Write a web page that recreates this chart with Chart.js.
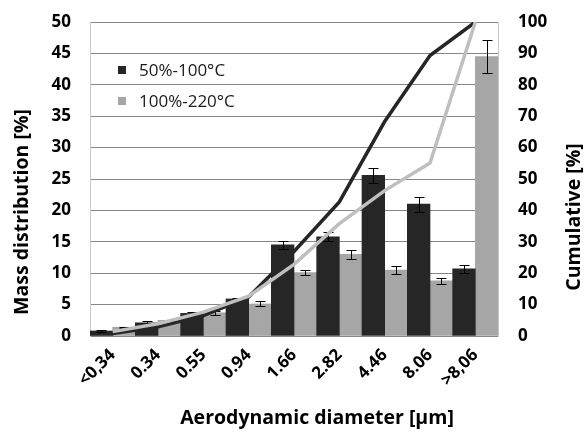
<!DOCTYPE html>
<html>
<head>
<meta charset="utf-8">
<script src="https://cdn.jsdelivr.net/npm/chart.js@4/dist/chart.umd.min.js"></script>
<style>
html,body{margin:0;padding:0;background:#fff;}
#wrap{width:587px;height:434px;position:relative;}
</style>
</head>
<body>
<div id="wrap"><canvas id="c" width="587" height="434"></canvas></div>
<script>
const categories = ['<0,34','0.34','0.55','0.94','1.66','2.82','4.46','8.06','>8,06'];
const seriesNames = ['50%-100°C','100%-220°C'];
const massA = [0.8, 2.1, 3.6, 5.9, 14.5, 15.8, 25.6, 21.0, 10.7];
const massB = [1.4, 2.5, 3.7, 5.1, 10.1, 13.0, 10.5, 8.8, 44.5];
const errA = [0.1, 0.3, 0.3, 0.2, 0.7, 0.7, 1.2, 1.2, 0.6];
const errB = [0.1, 0.1, 0.3, 0.4, 0.4, 0.7, 0.6, 0.5, 2.6];
const cumA = [0.8, 2.9, 6.5, 12.4, 26.9, 42.7, 68.3, 89.3, 100];
const cumB = [1.4, 3.9, 7.6, 12.7, 22.8, 35.8, 46.3, 55.1, 100];
const leftTicks = [0,5,10,15,20,25,30,35,40,45,50];
const rightTicks = [0,10,20,30,40,50,60,70,80,90,100];
const xTitle = 'Aerodynamic diameter [µm]';
const yTitle = 'Mass distribution [%]';
const y1Title = 'Cumulative [%]';

const FONT = "'Open Sans', 'DejaVu Sans', sans-serif";
const DARK = '#262626', LIGHT = '#a6a6a6', LIGHTLINE = '#bfbfbf';

const errorBars = {
  id: 'errorBars',
  afterDatasetDraw(chart, args) {
    const ds = chart.data.datasets[args.index];
    if (!ds.errors) return;
    const meta = args.meta;
    const ys = chart.scales.y;
    const ctx = chart.ctx;
    ctx.save();
    ctx.strokeStyle = '#000';
    ctx.lineWidth = 1;
    meta.data.forEach((el, i) => {
      const v = ds.data[i], e = ds.errors[i];
      const x = Math.round(el.x) + 0.5;
      const yt = Math.round(ys.getPixelForValue(v + e)) + 0.5;
      const yb = Math.round(ys.getPixelForValue(v - e)) + 0.5;
      ctx.beginPath();
      ctx.moveTo(x, yt); ctx.lineTo(x, yb);
      ctx.moveTo(x - 5, yt); ctx.lineTo(x + 5, yt);
      ctx.moveTo(x - 5, yb); ctx.lineTo(x + 5, yb);
      ctx.stroke();
    });
    ctx.restore();
  }
};

const decor = {
  id: 'decor',
  afterDraw(chart) {
    const ctx = chart.ctx;
    const a = chart.chartArea;
    ctx.save();
    // legend
    ctx.font = "17px " + FONT;
    ctx.textBaseline = 'middle';
    ctx.textAlign = 'left';
    const items = [[DARK, seriesNames[0], 70], [LIGHT, seriesNames[1], 101]];
    items.forEach(([c, t, y]) => {
      ctx.fillStyle = c;
      ctx.fillRect(a.left + 28, y - 4, 8, 8);
      ctx.fillStyle = '#1a1a1a';
      ctx.fillText(t, a.left + 49, y + 1);
    });
    // titles
    ctx.fillStyle = '#000';
    ctx.font = "bold 19.5px " + FONT;
    ctx.textAlign = 'center';
    ctx.textBaseline = 'middle';
    ctx.fillText(xTitle, 317, 418);
    ctx.save();
    ctx.translate(22, 212);
    ctx.rotate(-Math.PI / 2);
    ctx.fillText(yTitle, 0, 0);
    ctx.restore();
    ctx.save();
    ctx.translate(574, 217);
    ctx.rotate(-Math.PI / 2);
    ctx.fillText(y1Title, 0, 0);
    ctx.restore();
    ctx.restore();
  }
};

new Chart(document.getElementById('c'), {
  data: {
    labels: categories,
    datasets: [
      { type: 'line', label: 'cumB', data: cumB, yAxisID: 'y1', borderColor: LIGHTLINE, borderWidth: 3.5, pointRadius: 0, tension: 0, order: 0 },
      { type: 'line', label: 'cumA', data: cumA, yAxisID: 'y1', borderColor: DARK, borderWidth: 3.5, pointRadius: 0, tension: 0, order: 1 },
      { type: 'bar', label: seriesNames[0], data: massA, errors: errA, yAxisID: 'y', backgroundColor: DARK, order: 2 },
      { type: 'bar', label: seriesNames[1], data: massB, errors: errB, yAxisID: 'y', backgroundColor: LIGHT, order: 3 }
    ]
  },
  options: {
    responsive: false,
    animation: false,
    devicePixelRatio: 1,
    datasets: { bar: { categoryPercentage: 1.0, barPercentage: 1.0 } },
    layout: { padding: { top: 22, left: 0, right: 0, bottom: 0 } },
    plugins: { legend: { display: false }, tooltip: { enabled: false } },
    scales: {
      x: {
        type: 'category',
        offset: true,
        grid: { display: false, drawTicks: false },
        border: { color: '#868686', width: 1 },
        ticks: { color: '#000', font: { family: FONT, size: 17, weight: 'bold' }, maxRotation: 45, minRotation: 45, padding: 9, autoSkip: false },
        afterFit(s) { s.height = 98; s.paddingLeft = 0; s.paddingRight = 0; }
      },
      y: {
        position: 'left',
        min: 0, max: 50,
        afterBuildTicks(s) { s.ticks = leftTicks.map(v => ({ value: v })); },
        grid: { color: '#868686', drawTicks: false },
        border: { color: '#c8c8c8', width: 1 },
        ticks: { color: '#000', font: { family: FONT, size: 17, weight: 'bold' }, padding: 19 },
        afterFit(s) { s.width = 90; s.paddingTop = 0; s.paddingBottom = 0; }
      },
      y1: {
        position: 'right',
        min: 0, max: 100,
        afterBuildTicks(s) { s.ticks = rightTicks.map(v => ({ value: v })); },
        grid: { display: false, drawTicks: false },
        border: { color: '#c8c8c8', width: 1 },
        ticks: { color: '#000', font: { family: FONT, size: 17, weight: 'bold' }, padding: 20 },
        afterFit(s) { s.width = 89; s.paddingTop = 0; s.paddingBottom = 0; }
      }
    }
  },
  plugins: [errorBars, decor]
});
</script>
</body>
</html>
